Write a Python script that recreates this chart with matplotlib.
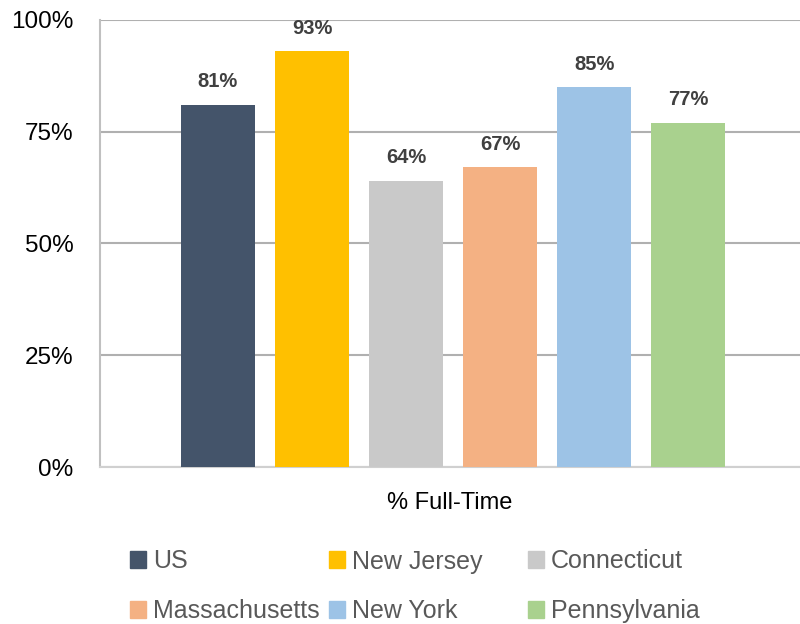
import matplotlib.pyplot as plt
from matplotlib.patches import Patch

# data
states = ['US', 'New Jersey', 'Connecticut', 'Massachusetts', 'New York', 'Pennsylvania']
full_time = [81, 93, 64, 67, 85, 77]
colors = ['#44546a', '#ffc000', '#c9c9c9', '#f4b183', '#9dc3e6', '#a9d18e']

plt.rcParams['font.family'] = ['Liberation Sans', 'DejaVu Sans']

fig = plt.figure(figsize=(8, 6.24), dpi=100)
ax = fig.add_axes([0.125, 0.2516, 0.875, 0.7164])

x = list(range(len(states)))
bars = ax.bar(x, full_time, width=0.787, color=colors, zorder=3)

for xi, v in zip(x, full_time):
    ax.text(xi, v + 3.0, f'{v}%', ha='center', va='bottom', fontsize=14.5,
            fontweight='bold', color='#404040')

ax.set_xlim(-1.255, 6.19)
ax.set_ylim(0, 100)
ax.set_yticks([0, 25, 50, 75, 100])
ax.set_yticklabels(['0%', '25%', '50%', '75%', '100%'], fontsize=17.5)
ax.tick_params(axis='y', length=0, pad=19)
ax.set_xticks([])
ax.grid(axis='y', color='#b0b0b0', linewidth=1.5, zorder=0)
for s in ['top', 'right']:
    ax.spines[s].set_visible(False)
ax.spines['left'].set_color('#c0c0c0')
ax.spines['left'].set_linewidth(1.5)
ax.spines['bottom'].set_color('#d0d0d0')
ax.spines['bottom'].set_linewidth(1.5)

fig.text(0.5625, 1 - 503 / 624, '% Full-Time', ha='center', va='center', fontsize=17)

# legend, three columns placed separately
cols = [(0, 3), (1, 4), (2, 5)]
xpos = [107, 306, 505]
for (a, b), xp in zip(cols, xpos):
    handles = [Patch(color=colors[a]), Patch(color=colors[b])]
    leg = fig.legend(handles, [states[a], states[b]], loc='upper left',
                     bbox_to_anchor=(xp / 800, 1 - 527 / 624), frameon=False,
                     fontsize=18, handlelength=0.65, handleheight=0.65,
                     handletextpad=0.3, labelspacing=1.03, labelcolor='#595959')

fig.savefig('out.png', dpi=100)
